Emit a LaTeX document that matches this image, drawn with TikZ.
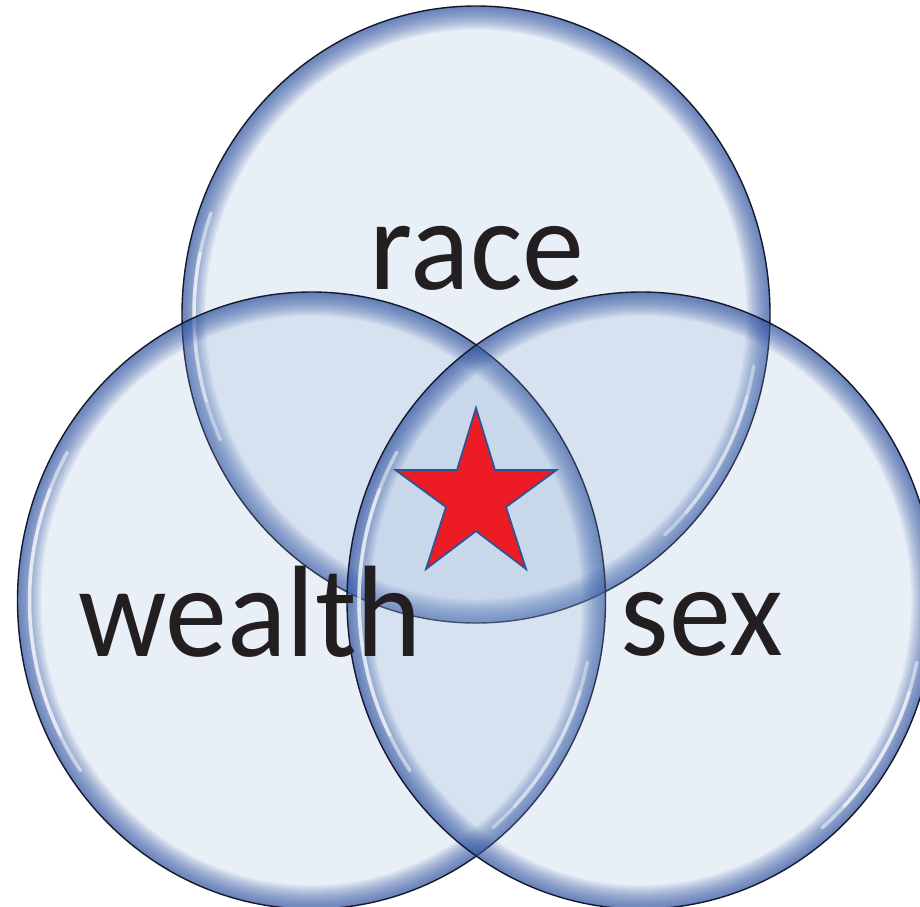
\documentclass[tikz,border=0pt]{standalone}
\usepackage{fontspec}
\setmainfont{Carlito}
\definecolor{setfillc}{RGB}{145,175,215}
\definecolor{rimc}{RGB}{50,85,165}
\definecolor{edgec}{RGB}{20,25,45}
\definecolor{txtc}{RGB}{35,31,32}
\definecolor{starfillc}{RGB}{237,28,36}
\definecolor{starlinec}{RGB}{46,84,150}
\tikzset{
  setfill/.style={fill=setfillc, fill opacity=0.2},
  rimstroke/.style={draw=rimc, draw opacity=0.045},
  gloss/.style={draw=white, draw opacity=0.5, line width=3.5pt, line cap=round},
  setedge/.style={draw=edgec, line width=1.4pt},
  lbl/.style={font=\fontsize{124}{124}\selectfont, text=txtc, inner sep=0pt, anchor=base},
  starshape/.style={fill=starfillc, draw=starlinec, line width=1.8pt, line join=miter},
}
\newcommand\vennset[6]{% cx, cy, left-start, left-end, right-start, right-end
  \fill[setfill] (#1,#2) ellipse [x radius=294pt, y radius=308.5pt];
  \begin{scope}
    \clip (#1,#2) ellipse [x radius=294pt, y radius=308.5pt];
    \foreach \w in {2,4,...,48}
      \draw[rimstroke, line width=\w pt] (#1,#2) ellipse [x radius=294pt, y radius=308.5pt];
  \end{scope}
  \draw[gloss] (#1,#2) ++(#3:282pt and 296.5pt) arc [start angle=#3, end angle=#4, x radius=282pt, y radius=296.5pt];
  \draw[gloss] (#1,#2) ++(#3+8:282pt and 296.5pt) arc [start angle=#3+8, end angle=#4-8, x radius=282pt, y radius=296.5pt];
  \draw[gloss] (#1,#2) ++(#5:282pt and 296.5pt) arc [start angle=#5, end angle=#6, x radius=282pt, y radius=296.5pt];
  \draw[gloss] (#1,#2) ++(#5-6:282pt and 296.5pt) arc [start angle=#5-6, end angle=#6+6, x radius=282pt, y radius=296.5pt];
  \draw[setedge] (#1,#2) ellipse [x radius=294pt, y radius=308.5pt];
}
\begin{document}
\begin{tikzpicture}[x=1pt, y=-1pt]
  \useasboundingbox (0,0) rectangle (920,906);
  \clip (0,0) rectangle (920,906);
  \fill[white] (0,0) rectangle (920,906);
  % the three sets
  \vennset{476}{314.5}{160}{205}{-10}{-48}
  \vennset{311.5}{600.5}{150}{215}{-12}{-50}
  \vennset{641}{600.5}{150}{215}{-12}{-50}
  % labels
  \node[lbl] (race) at (477,289) {\scalebox{1}[1.05]{race}};
  \node[lbl] (wealth) at (250,656) {\scalebox{1}[1.05]{wealth}};
  \node[lbl] (sex) at (702,655) {\scalebox{1}[1.05]{sex}};
  % star
  \coordinate (s1) at (476,408);
  \coordinate (s2) at (495,470);
  \coordinate (s3) at (556.5,470);
  \coordinate (s4) at (506,507);
  \coordinate (s5) at (526,569);
  \coordinate (s6) at (476,531);
  \coordinate (s7) at (426,569);
  \coordinate (s8) at (446,507);
  \coordinate (s9) at (395.5,470);
  \coordinate (s10) at (457,470);
  \filldraw[starshape] (s1) -- (s2) -- (s3) -- (s4) -- (s5) -- (s6) -- (s7) -- (s8) -- (s9) -- (s10) -- cycle;
\end{tikzpicture}
\end{document}
